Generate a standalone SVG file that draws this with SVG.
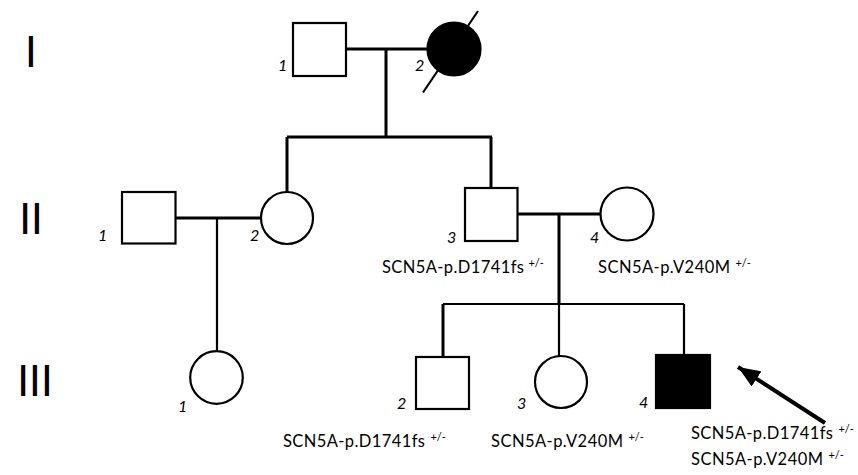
<svg xmlns="http://www.w3.org/2000/svg" width="858" height="475" viewBox="0 0 858 475">
<style>
.sym{fill:#fff;stroke:#000;stroke-width:2.2}
.aff{fill:#000;stroke:#000;stroke-width:2.2}
.ln{fill:none;stroke:#000;stroke-width:3}
.ln2{fill:none;stroke:#000;stroke-width:2.2}
.num{font-family:Lato,"Liberation Sans",sans-serif;font-style:italic;font-size:16px;fill:#000}
.gen{font-family:Lato,"Liberation Sans",sans-serif;font-size:42px;fill:#000;text-anchor:middle}
.lab{font-family:Lato,"Liberation Sans",sans-serif;font-size:16.5px;fill:#000}
.sup{font-size:11px}
</style>
<defs>
<marker id="ah" markerUnits="userSpaceOnUse" markerWidth="24" markerHeight="18" refX="22" refY="9" orient="auto">
<path d="M0,0 L22,9 L0,18 Z" fill="#000"/>
</marker>
</defs>
<g id="gen-labels">
<text class="gen" x="31" y="67">I</text>
<text class="gen" x="31" y="234">II</text>
<text class="gen" x="35" y="396">III</text>
</g>
<g id="connectors">
<line class="ln" x1="346" y1="49" x2="428" y2="49"/>
<line class="ln" x1="386" y1="49" x2="386" y2="137"/>
<line class="ln" x1="287" y1="137" x2="492" y2="137"/>
<line class="ln" x1="287" y1="137" x2="287" y2="192"/>
<line class="ln" x1="491" y1="137" x2="491" y2="188"/>
<line class="ln" x1="176" y1="218" x2="261" y2="218"/>
<line class="ln2" x1="217" y1="218" x2="217" y2="351"/>
<line class="ln" x1="518" y1="214" x2="600" y2="214"/>
<line class="ln" x1="559" y1="214" x2="559" y2="305"/>
<line class="ln2" x1="443" y1="304" x2="684" y2="304"/>
<line class="ln" x1="443" y1="304" x2="443" y2="357"/>
<line class="ln2" x1="559" y1="304" x2="559" y2="356"/>
<line class="ln2" x1="684" y1="304" x2="684" y2="355"/>
<line x1="825" y1="423" x2="738" y2="367" stroke="#000" stroke-width="4" marker-end="url(#ah)"/>
</g>
<g id="I-1">
<rect class="sym" x="293" y="23" width="53" height="53"/>
<text class="num" x="278" y="71">1</text>
</g>
<g id="I-2">
<circle class="aff" cx="454" cy="49" r="26.5"/>
<line x1="423" y1="92.5" x2="478" y2="11" stroke="#000" stroke-width="2.2"/>
<text class="num" x="415" y="71">2</text>
</g>
<g id="II-1">
<rect class="sym" x="122" y="192" width="53.5" height="51.5"/>
<text class="num" x="98" y="241">1</text>
</g>
<g id="II-2">
<circle class="sym" cx="287" cy="218" r="26"/>
<text class="num" x="250" y="241">2</text>
</g>
<g id="II-3">
<rect class="sym" x="465" y="188" width="52.5" height="53"/>
<text class="num" x="447" y="243">3</text>
<text class="lab" x="382" y="273"><tspan textLength="142">SCN5A-p.D1741fs</tspan><tspan class="sup" dx="4" dy="-6">+/-</tspan></text>
</g>
<g id="II-4">
<circle class="sym" cx="627" cy="214" r="26.5"/>
<text class="num" x="590" y="243">4</text>
<text class="lab" x="598" y="273"><tspan textLength="132">SCN5A-p.V240M</tspan><tspan class="sup" dx="5" dy="-6">+/-</tspan></text>
</g>
<g id="III-1">
<circle class="sym" cx="216.5" cy="377.5" r="26.3"/>
<text class="num" x="178" y="412">1</text>
</g>
<g id="III-2">
<rect class="sym" x="416" y="357" width="53" height="52"/>
<text class="num" x="397" y="409">2</text>
<text class="lab" x="283" y="447"><tspan textLength="142">SCN5A-p.D1741fs</tspan><tspan class="sup" dx="5" dy="-6">+/-</tspan></text>
</g>
<g id="III-3">
<circle class="sym" cx="561" cy="382" r="26"/>
<text class="num" x="517" y="409">3</text>
<text class="lab" x="491" y="447"><tspan textLength="132">SCN5A-p.V240M</tspan><tspan class="sup" dx="5" dy="-6">+/-</tspan></text>
</g>
<g id="III-4">
<rect class="aff" x="656" y="355" width="54" height="53"/>
<text class="num" x="639" y="408">4</text>
<text class="lab" x="691" y="439"><tspan textLength="142">SCN5A-p.D1741fs</tspan><tspan class="sup" dx="5" dy="-6">+/-</tspan></text>
<text class="lab" x="691" y="465"><tspan textLength="132">SCN5A-p.V240M</tspan><tspan class="sup" dx="5" dy="-6">+/-</tspan></text>
</g>
</svg>
